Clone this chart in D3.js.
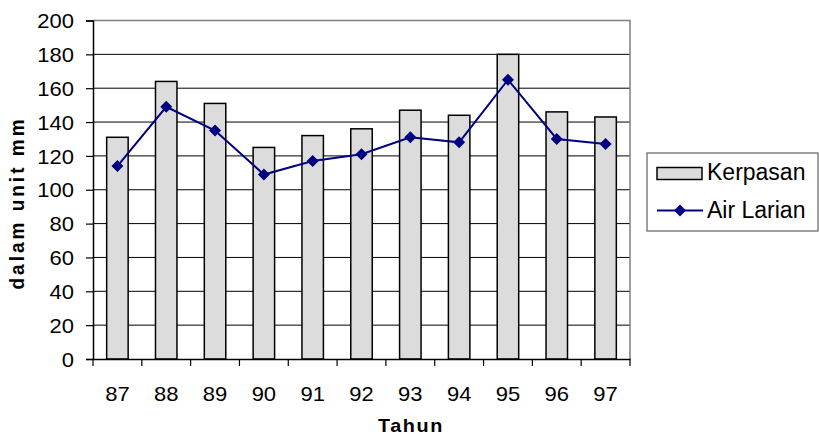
<!DOCTYPE html>
<html>
<head>
<meta charset="utf-8">
<script src="https://cdn.jsdelivr.net/npm/d3@7"></script>
<style>
  body { margin: 0; background: #fff; }
  svg { display: block; font-family: "Liberation Sans", Arial, sans-serif; }
</style>
</head>
<body>
<svg id="chart" width="819" height="435"></svg>
<script>
// chart data
var years = ["87", "88", "89", "90", "91", "92", "93", "94", "95", "96", "97"];
var kerpasan = [131, 164, 151, 125, 132, 136, 147, 144, 180, 146, 143];
var airLarian = [114, 149, 135, 109, 117, 121, 131, 128, 165, 130, 127];
var yTicks = [0, 20, 40, 60, 80, 100, 120, 140, 160, 180, 200];

var svg = d3.select("#chart");

var plotLeft = 93, plotRight = 630, plotTop = 20.5, plotBottom = 359;

// scales
var x = d3.scaleBand()
    .domain(years)
    .range([plotLeft, plotRight])
    .padding(0);

var y = d3.scaleLinear()
    .domain([0, 200])
    .range([plotBottom, plotTop]);

// gridlines
svg.append("g")
    .selectAll("line")
    .data(yTicks.filter(function (d) { return d > 0 && d < 200; }))
    .enter().append("line")
    .attr("x1", plotLeft)
    .attr("x2", plotRight)
    .attr("y1", function (d) { return y(d); })
    .attr("y2", function (d) { return y(d); })
    .attr("stroke", "#000")
    .attr("stroke-width", 1);

// plot border (top + right)
svg.append("path")
    .attr("d", "M" + plotLeft + "," + y(200) + "H" + plotRight + "V" + plotBottom)
    .attr("fill", "none")
    .attr("stroke", "#808080")
    .attr("stroke-width", 1.5);

// bars
var barW = x.bandwidth() * 0.44;
svg.append("g")
    .selectAll("rect")
    .data(kerpasan)
    .enter().append("rect")
    .attr("x", function (d, i) { return x(years[i]) + x.bandwidth() / 2 - barW / 2; })
    .attr("y", function (d) { return y(d); })
    .attr("width", barW)
    .attr("height", function (d) { return y(0) - y(d); })
    .attr("fill", "#dcdcdc")
    .attr("stroke", "#000")
    .attr("stroke-width", 1.5);

// line
var line = d3.line()
    .x(function (d, i) { return x(years[i]) + x.bandwidth() / 2; })
    .y(function (d) { return y(d); });

svg.append("path")
    .datum(airLarian)
    .attr("d", line)
    .attr("fill", "none")
    .attr("stroke", "#000080")
    .attr("stroke-width", 2);

var marker = d3.symbol().type(d3.symbolSquare).size(72);
svg.append("g")
    .selectAll("path")
    .data(airLarian)
    .enter().append("path")
    .attr("d", marker)
    .attr("transform", function (d, i) {
        return "translate(" + (x(years[i]) + x.bandwidth() / 2) + "," + y(d) + ") rotate(45)";
    })
    .attr("fill", "#000080");

// y axis
var yAxis = svg.append("g")
    .attr("transform", "translate(" + plotLeft + ",0)")
    .call(d3.axisLeft(y).tickValues(yTicks).tickSize(7).tickPadding(0));
yAxis.select(".domain").attr("stroke", "#000").attr("stroke-width", 1.5);
yAxis.selectAll(".tick line").attr("stroke", "#000").attr("stroke-width", 1.2);
yAxis.selectAll("text")
    .attr("x", null)
    .attr("dy", "0.36em")
    .attr("transform", "translate(-19,0) scale(1.1,1)")
    .attr("fill", "#000")
    .style("font-size", "20px")
    .style("font-family", "'Liberation Sans', Arial, sans-serif");

// x axis, ticks sit on the category boundaries
var xAxis = svg.append("g")
    .attr("transform", "translate(0," + plotBottom + ")")
    .call(d3.axisBottom(x).tickSize(0).tickPadding(0));
xAxis.select(".domain").attr("stroke", "#000").attr("stroke-width", 1.5);
xAxis.selectAll("text")
    .attr("y", null)
    .attr("dy", null)
    .attr("transform", "translate(0,42) scale(1.1,1)")
    .attr("fill", "#000")
    .style("font-size", "20px")
    .style("font-family", "'Liberation Sans', Arial, sans-serif");

var bounds = years.map(function (d) { return x(d); }).concat([plotRight]);
svg.append("g")
    .selectAll("line")
    .data(bounds)
    .enter().append("line")
    .attr("x1", function (d) { return d; })
    .attr("x2", function (d) { return d; })
    .attr("y1", plotBottom)
    .attr("y2", plotBottom + 7)
    .attr("stroke", "#000")
    .attr("stroke-width", 1.2);

// axis titles
svg.append("text")
    .attr("transform", "translate(411,432) scale(1.1,1)")
    .attr("text-anchor", "middle")
    .style("font-size", "18px")
    .style("font-weight", "bold")
    .style("letter-spacing", "1.5px")
    .text("Tahun");

svg.append("text")
    .attr("transform", "translate(24,203) scale(1.1,1) rotate(-90)")
    .attr("text-anchor", "middle")
    .style("font-size", "19px")
    .style("font-weight", "bold")
    .style("letter-spacing", "3px")
    .text("dalam unit mm");

// legend
var legend = svg.append("g");
legend.append("rect")
    .attr("x", 647)
    .attr("y", 153)
    .attr("width", 171)
    .attr("height", 78)
    .attr("fill", "#fff")
    .attr("stroke", "#808080")
    .attr("stroke-width", 1.5);

legend.append("rect")
    .attr("x", 657)
    .attr("y", 167.5)
    .attr("width", 45)
    .attr("height", 12)
    .attr("fill", "#dcdcdc")
    .attr("stroke", "#000")
    .attr("stroke-width", 1.5);

legend.append("line")
    .attr("x1", 657)
    .attr("x2", 703)
    .attr("y1", 210.5)
    .attr("y2", 210.5)
    .attr("stroke", "#000080")
    .attr("stroke-width", 2);

legend.append("path")
    .attr("d", marker)
    .attr("transform", "translate(680,210.5) rotate(45)")
    .attr("fill", "#000080");

legend.selectAll("text.lbl")
    .data(["Kerpasan", "Air Larian"])
    .enter().append("text")
    .attr("class", "lbl")
    .attr("x", 707)
    .attr("y", function (d, i) { return 180 + i * 38; })
    .style("font-size", "23px")
    .text(function (d) { return d; });
</script>
</body>
</html>
